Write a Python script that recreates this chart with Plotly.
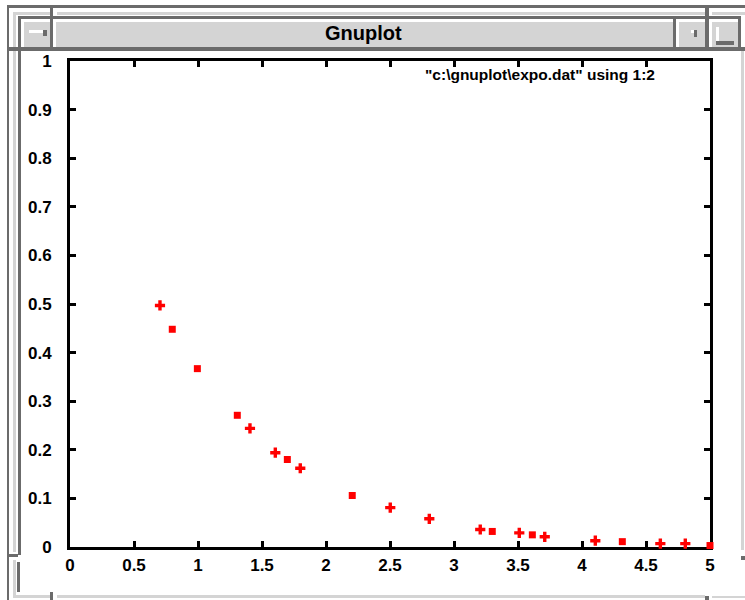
import plotly.graph_objects as go

# ---- data: two point sets plotted from the same data file ----
plus_x = [0.703, 1.406, 1.604, 1.799, 2.502, 2.807, 3.205, 3.51, 3.709, 4.104, 4.612, 4.807]
plus_y = [0.497, 0.244, 0.194, 0.162, 0.081, 0.058, 0.036, 0.029, 0.021, 0.013, 0.007, 0.007]
square_x = [0.799, 0.995, 1.307, 1.698, 2.205, 3.299, 3.612, 4.315, 5.0]
square_y = [0.448, 0.367, 0.271, 0.180, 0.106, 0.032, 0.025, 0.011, 0.003]

x_ticks = [0, 0.5, 1, 1.5, 2, 2.5, 3, 3.5, 4, 4.5, 5]
y_ticks = [0, 0.1, 0.2, 0.3, 0.4, 0.5, 0.6, 0.7, 0.8, 0.9, 1]
key_text = '"c:\\gnuplot\\expo.dat" using 1:2'
window_title = "Gnuplot"

# ---- page geometry (pixels) ----
W, H = 745, 600
L, R, T, B = 70, 35, 61, 53
PW, PH = W - L - R, H - T - B

DK = "#6b6b6b"
LT = "#d4d4d4"
WH = "#ffffff"


def fx(x):
    return (x - L) / PW


def fy(y):
    return (H - B - y) / PH


def rect(x0, y0, x1, y1, color):
    return dict(type="rect", xref="paper", yref="paper",
                x0=fx(x0), x1=fx(x1), y0=fy(y1), y1=fy(y0),
                fillcolor=color, line=dict(width=0), layer="above")


# window frame and title bar
frame = [
    # top outer line and light strip
    (7, 5, 745, 8, DK),
    (13, 12, 50, 15, LT), (57, 12, 705, 15, LT), (712, 12, 745, 15, LT),
    # second line and title-bar panels
    (18, 16, 741, 19, DK),
    (24, 22, 50, 47, LT), (56, 22, 673, 47, LT),
    (679, 22, 705, 47, LT), (712, 22, 738, 47, LT),
    # separators
    (50, 5, 53, 51, DK), (673, 19, 676, 47, DK),
    (705, 5, 709, 51, DK), (738, 16, 741, 51, DK),
    # bottom of title bar
    (7, 47, 745, 51, DK),
    # buttons
    (29, 30, 43, 33, WH), (43, 30, 47, 36, DK),
    (691, 30, 694, 33, WH), (694, 30, 697, 37, DK),
    (716, 27, 719, 43, WH), (716, 41, 734, 45, DK),
    # left border
    (7, 5, 9, 600, DK),
    (13, 15, 16, 47, LT), (13, 51, 16, 552, LT),
    (18, 16, 21, 555, DK), (9, 554, 18, 557, DK),
    (13, 560, 16, 597, LT), (17, 562, 20, 592, DK),
    # right border
    (741, 51, 744, 550, LT), (741, 556, 745, 560, DK),
    # bottom border
    (13, 595, 50, 598, LT), (50, 592, 53, 600, DK),
    (57, 595, 705, 598, LT), (705, 596, 709, 600, DK),
    (712, 596, 745, 598, LT),
]
shapes = [rect(*r) for r in frame]

fig = go.Figure()
fig.add_trace(go.Scatter(
    x=plus_x, y=plus_y, mode="markers", cliponaxis=False, showlegend=False,
    marker=dict(symbol="cross", size=8.5, color="#ff0000", line=dict(width=0)),
))
fig.add_trace(go.Scatter(
    x=square_x, y=square_y, mode="markers", cliponaxis=False, showlegend=False,
    marker=dict(symbol="square", size=7, color="#ff0000", line=dict(width=0)),
))

tick_font = dict(family="Liberation Sans, Arial, sans-serif", size=17,
                 color="#000000", weight="bold")
axis_common = dict(
    showgrid=False, zeroline=False, showline=True, linewidth=3,
    linecolor="#000000", mirror="allticks", ticks="inside", ticklen=6,
    tickwidth=3, tickcolor="#000000", tickfont=tick_font, fixedrange=True,
    layer="below traces",
)

fig.update_layout(
    width=W, height=H,
    margin=dict(l=L, r=R, t=T, b=B, pad=0),
    paper_bgcolor="#ffffff", plot_bgcolor="#ffffff",
    xaxis=dict(range=[0, 5], tickvals=x_ticks,
               ticktext=[f"{v:g}" for v in x_ticks],
               ticklabelstandoff=1, **axis_common),
    yaxis=dict(range=[0, 1], tickvals=y_ticks,
               ticktext=[f"{v:g}" for v in y_ticks],
               ticklabelstandoff=12, **axis_common),
    shapes=shapes,
    annotations=[
        dict(text=window_title, xref="paper", yref="paper",
             x=fx(363), y=fy(33), xanchor="center", yanchor="middle",
             showarrow=False,
             font=dict(family="Liberation Sans, Arial, sans-serif", size=20,
                       color="#000000", weight="bold")),
        dict(text=key_text, xref="paper", yref="paper",
             x=fx(657), y=fy(75), xanchor="right", yanchor="middle",
             showarrow=False,
             font=dict(family="Liberation Sans, Arial, sans-serif", size=15.5,
                       color="#000000", weight="bold")),
    ],
)

fig.write_html("out.html", config={"displayModeBar": False})
